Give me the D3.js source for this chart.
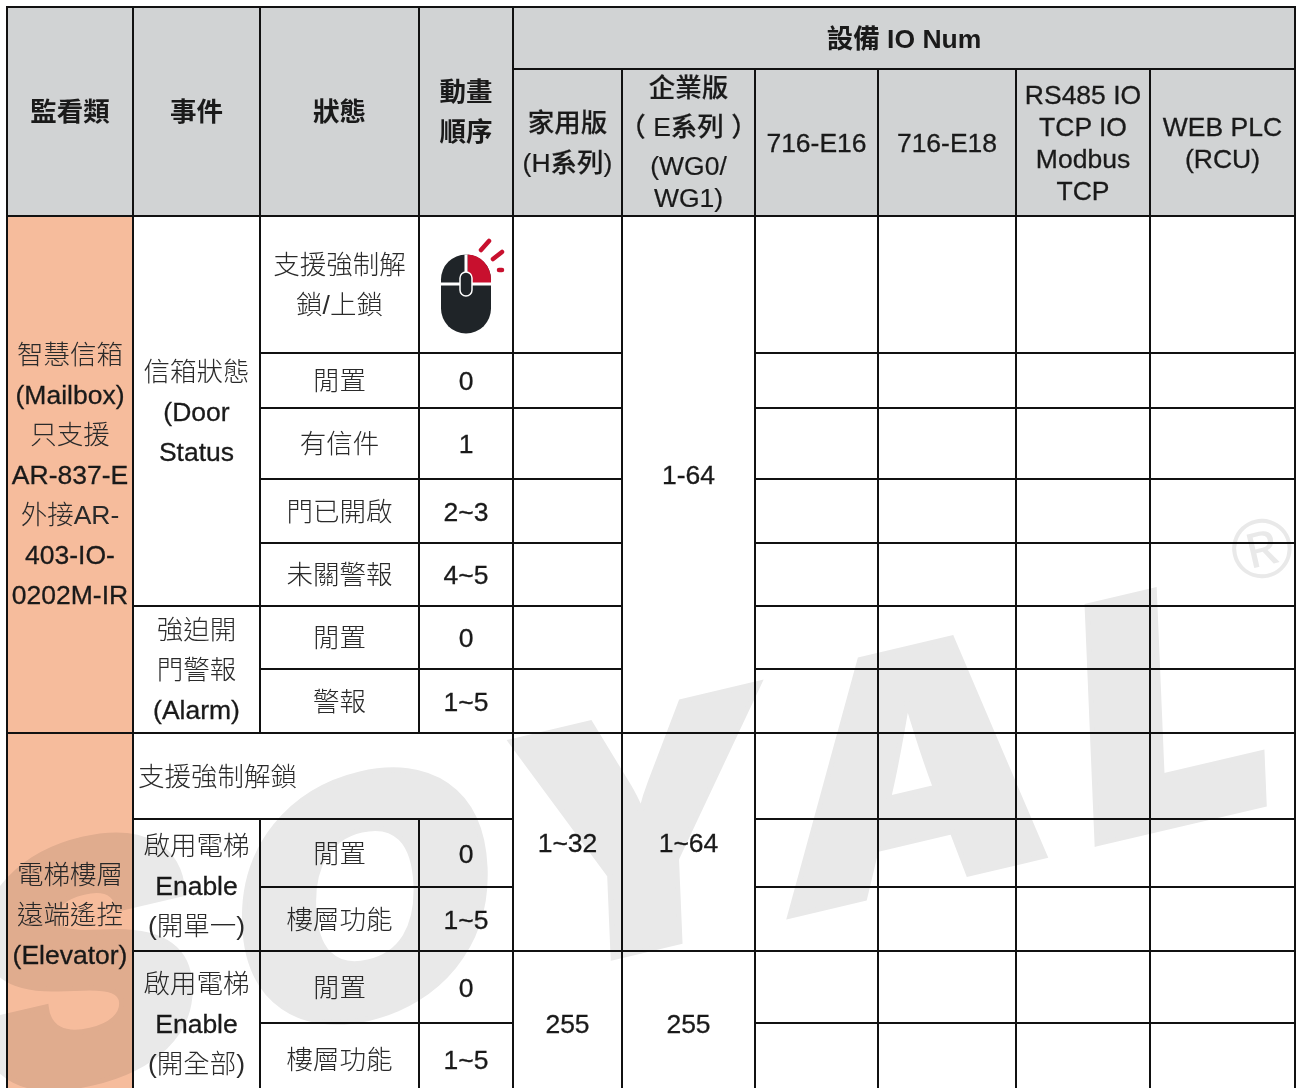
<!DOCTYPE html>
<html>
<head>
<meta charset="utf-8">
<script src="https://cdn.jsdelivr.net/npm/d3@7"></script>
<style>
    html, body { margin: 0; padding: 0; background: #fff; overflow: hidden; }
    svg { display: block; }
    text { font-family: "Liberation Sans", "Noto Sans CJK TC", sans-serif; font-size: 26.5px; fill: #1a1a1a; }
</style>
</head>
<body>
<script>
// Textos da tabela
const groupHeaders = [["監看類"], ["事件"], ["狀態"], ["動畫", "順序"]];
const ioTitle = ["設備 IO Num"];
const ioColumns = [
    ["家用版", "(H系列)"],
    ["企業版", "（ E系列 ）", "(WG0/", "WG1)"],
    ["716-E16"],
    ["716-E18"],
    ["RS485 IO", "TCP IO", "Modbus", "TCP"],
    ["WEB PLC", "(RCU)"]
];
const monitorTypes = [
    ["智慧信箱", "(Mailbox)", "只支援", "AR-837-E", "外接AR-", "403-IO-", "0202M-IR"],
    ["電梯樓層", "遠端遙控", "(Elevator)"]
];
const events = [
    ["信箱狀態", "(Door", "Status"],
    ["強迫開", "門警報", "(Alarm)"],
    ["啟用電梯", "Enable", "(開單一)"],
    ["啟用電梯", "Enable", "(開全部)"]
];
const mailboxStates = [["支援強制解", "鎖/上鎖"], ["閒置"], ["有信件"], ["門已開啟"], ["未關警報"], ["閒置"], ["警報"]];
const mailboxOrders = ["", "0", "1", "2~3", "4~5", "0", "1~5"];
const elevatorUnlock = ["支援強制解鎖"];
const elevatorStates = [["閒置"], ["樓層功能"], ["閒置"], ["樓層功能"]];
const elevatorOrders = ["0", "1~5", "0", "1~5"];
const homeRange = ["1~32", "255"];
const enterpriseRange = ["1-64", "1~64", "255"];

// Escalas da grade: índice de coluna/linha para pixel
const colScale = d3.scaleOrdinal()
    .domain(d3.range(11))
    .range([7, 133, 260, 419, 513, 622, 755, 878, 1016, 1150, 1295]);
const rowScale = d3.scaleOrdinal()
    .domain(d3.range(15))
    .range([7, 69, 216, 353, 408, 479, 543, 606, 669, 733, 819, 887, 951, 1023, 1095]);

const svg = d3.select("body").append("svg")
    .attr("width", 1296)
    .attr("height", 1088);

// Monta a lista de células
const cells = [];
function addCell(c, r, cs, rs, lines, opts) {
    cells.push(Object.assign({ c, r, cs, rs, lines, fill: "#fff", gap: 40, weight: 400 }, opts));
}

const head = { fill: "#d1d3d4", weight: 700 };
groupHeaders.forEach((t, i) => addCell(i, 0, 1, 2, t, head));
addCell(4, 0, 6, 1, ioTitle, head);
ioColumns.forEach((t, i) => {
    const opts = { fill: "#d1d3d4", gap: 32, weight: i < 2 ? 500 : 400 };
    if (i === 0) opts.gap = 40;
    if (i === 1) opts.gaps = [-55, -16, 23, 55];
    addCell(4 + i, 1, 1, 1, t, opts);
});

const peach = { fill: "#f6bc9c" };
addCell(0, 2, 1, 7, monitorTypes[0], peach);
addCell(0, 9, 1, 5, monitorTypes[1], peach);

addCell(1, 2, 1, 5, events[0]);
addCell(1, 7, 1, 2, events[1]);
addCell(1, 10, 1, 2, events[2]);
addCell(1, 12, 1, 2, events[3]);

mailboxStates.forEach((t, i) => addCell(2, 2 + i, 1, 1, t));
mailboxOrders.forEach((t, i) => addCell(3, 2 + i, 1, 1, t ? [t] : []));
addCell(1, 9, 3, 1, elevatorUnlock, { align: "left" });
elevatorStates.forEach((t, i) => addCell(2, 10 + i, 1, 1, t));
elevatorOrders.forEach((t, i) => addCell(3, 10 + i, 1, 1, [t]));

// Colunas de faixa de IO
d3.range(2, 9).forEach(r => addCell(4, r, 1, 1, []));
addCell(4, 9, 1, 3, [homeRange[0]]);
addCell(4, 12, 1, 2, [homeRange[1]]);
addCell(5, 2, 1, 7, [enterpriseRange[0]]);
addCell(5, 9, 1, 3, [enterpriseRange[1]]);
addCell(5, 12, 1, 2, [enterpriseRange[2]]);

// Células vazias à direita
d3.range(2, 14).forEach(r => d3.range(6, 10).forEach(c => addCell(c, r, 1, 1, [])));

// Desenha fundos e bordas
svg.append("g").selectAll("rect")
    .data(cells)
    .enter()
    .append("rect")
    .attr("x", d => colScale(d.c))
    .attr("y", d => rowScale(d.r))
    .attr("width", d => colScale(d.c + d.cs) - colScale(d.c))
    .attr("height", d => rowScale(d.r + d.rs) - rowScale(d.r))
    .attr("fill", d => d.fill)
    .attr("stroke", "#111")
    .attr("stroke-width", 2);

// Desenha os textos
const isLatin = s => /^[\x00-\x7f]*$/.test(s);
cells.forEach(d => {
    const cx = (colScale(d.c) + colScale(d.c + d.cs)) / 2;
    const cy = (rowScale(d.r) + rowScale(d.r + d.rs)) / 2;
    d.lines.forEach((line, i) => {
        const offset = d.gaps ? d.gaps[i] : (i - (d.lines.length - 1) / 2) * d.gap;
        const t = svg.append("text")
            .attr("x", d.align === "left" ? colScale(d.c) + 5 : cx)
            .attr("y", cy + offset + 0.7)
            .attr("dy", "0.35em")
            .attr("text-anchor", d.align === "left" ? "start" : "middle")
            .style("font-weight", d.weight === 400 ? 300 : d.weight)
            .text(line);
        // Latim um pouco mais pesado, CJK um pouco mais claro, como na referência
        if (d.weight === 400 && isLatin(line)) {
            t.style("stroke", "#1a1a1a").style("stroke-width", 0.3);
        } else if (d.weight === 400) {
            t.style("fill", "#2a2a2a");
        } else if (d.weight === 500) {
            t.style("stroke", "#1a1a1a").style("stroke-width", 0.2);
        }
    });
});

// Ícone do mouse na primeira célula de animação
const mouse = svg.append("g").attr("transform", "translate(466,294)");
mouse.append("rect")
    .attr("x", -25).attr("y", -39.5)
    .attr("width", 50).attr("height", 79)
    .attr("rx", 25).attr("fill", "#1f2428");
mouse.append("path")
    .attr("d", "M1.5,-39.5 A24,25 0 0 1 25,-14 L25,-11 L1.5,-11 Z")
    .attr("fill", "#c8102e");
mouse.append("path")
    .attr("d", "M-25,-10 H25 M0,-39.5 V-22")
    .attr("stroke", "#fff").attr("stroke-width", 3).attr("fill", "none");
mouse.append("rect")
    .attr("x", -6).attr("y", -22)
    .attr("width", 12).attr("height", 24)
    .attr("rx", 6).attr("fill", "#1f2428")
    .attr("stroke", "#fff").attr("stroke-width", 1.5);
mouse.append("path")
    .attr("d", "M15,-44 L23,-53 M27,-35 L36,-42 M33,-24 L36,-24")
    .attr("stroke", "#c8102e").attr("stroke-width", 4.5)
    .attr("stroke-linecap", "round").attr("fill", "none");

// Marca d'água por cima de tudo, em multiply
const watermark = svg.append("g").style("mix-blend-mode", "multiply");
watermark.append("text")
    .attr("transform", "matrix(3.4,-0.8,0.137,3.27,0,1102)")
    .attr("x", "-7 70 151 230 318")
    .attr("y", 0)
    .style("font-family", "Inter")
    .style("font-weight", 900)
    .style("font-size", "100px")
    .style("fill", "#e9e9e9")
    .style("stroke", "#e9e9e9")
    .style("stroke-width", 1.5)
    .text("SOYAL");
watermark.append("text")
    .attr("transform", "translate(1262,549) rotate(-13)")
    .attr("text-anchor", "middle")
    .attr("dy", "0.34em")
    .style("font-family", "'Liberation Sans'")
    .style("font-size", "84px")
    .style("fill", "#e9e9e9")
    .text("®");
</script>
</body>
</html>
